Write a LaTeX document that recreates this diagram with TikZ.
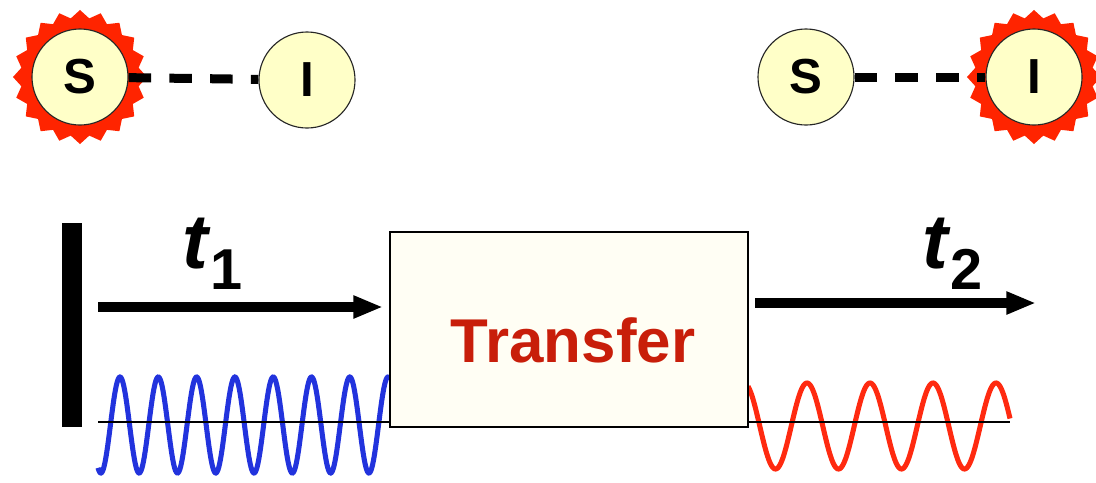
\documentclass[tikz,border=0pt]{standalone}
\usepackage{fontspec}
\setmainfont{Liberation Sans}
\usetikzlibrary{shapes.geometric,arrows.meta}
\definecolor{ionfill}{HTML}{FFFFC8}
\definecolor{boxfill}{HTML}{FFFEF4}
\definecolor{burstred}{HTML}{FF2400}
\definecolor{wavered}{HTML}{FF2A10}
\definecolor{waveblue}{HTML}{2233DD}
\definecolor{xferred}{HTML}{C81E0A}
\tikzset{
  x=0.025cm, y=-0.025cm,
  ion_n/.style = {circle, draw=black!85, line width=0.8pt, fill=ionfill, inner sep=0pt,
                  minimum size=2.4cm, font=\fontsize{35}{40}\selectfont\bfseries},
  ion_b/.style = {star, star points=20, star point ratio=1.13, fill=burstred, inner sep=0pt,
                  minimum size=3.35cm},
  bond/.style = {line width=6.4pt, dash pattern=on 16pt off 13pt},
  pulse/.style = {line width=7pt, -{Triangle[length=21pt,width=15pt]}},
  wave/.style = {line width=3.6pt, samples=400, smooth},
  tlabel/.style = {anchor=base west, inner sep=0pt, font=\fontsize{55}{60}\selectfont\bfseries}
}
\newcommand{\tsub}[1]{\textit{t}\raisebox{-15pt}{\fontsize{41}{46}\selectfont #1}}
\begin{document}
\begin{tikzpicture}
\useasboundingbox (0,0) rectangle (1096,482);
% before transfer: S excited
\node [ion_b] (b1) at (80,77) {};
\node [ion_n] (s1) at (80,77) {S};
\node [ion_n] (i1) at (307,80) {I};
\draw [bond] (s1) -- (i1);
% after transfer: I excited
\node [ion_b] (b2) at (1034,77) {};
\node [ion_n] (s2) at (806,77) {S};
\node [ion_n] (i2) at (1034,77) {I};
\draw [bond] (s2) -- (i2);
% waves
\draw [wave, waveblue] plot[domain=98:390] (\x, {425-48*cos(9.3995*(\x-120))});
\draw [wave, wavered] plot[domain=748:1010] (\x, {426-43*cos(5.7143*(\x-807))});
\coordinate (z1) at (98,422);
\coordinate (z2) at (1010,422);
% wall and transfer box
\node [fill=black, inner sep=0pt, minimum width=0.52cm, minimum height=5.1cm] (wall) at (72,325) {};
\node [draw=black, line width=2pt, fill=boxfill, inner sep=0pt,
       minimum width=8.95cm, minimum height=4.875cm] (xfer) at (569,329.5) {};
\node [anchor=base, inner sep=0pt, text=xferred, font=\fontsize{44}{48}\selectfont\bfseries]
      (xferlbl) at (573,362) {Transfer};
\draw [line width=1pt] (z1) -- (xfer.west |- z1);
\draw [line width=1pt] (xfer.east |- z2) -- (z2);
% time arrows
\coordinate (t1s) at (98,307);
\coordinate (t1e) at (383,307);
\coordinate (t2s) at (755,303);
\coordinate (t2e) at (1036,303);
\draw [pulse] (t1s) -- (t1e);
\draw [pulse] (t2s) -- (t2e);
\node [tlabel] (t1) at (182,268) {\tsub{1}};
\node [tlabel] (t2) at (922,268) {\tsub{2}};
\end{tikzpicture}
\end{document}
